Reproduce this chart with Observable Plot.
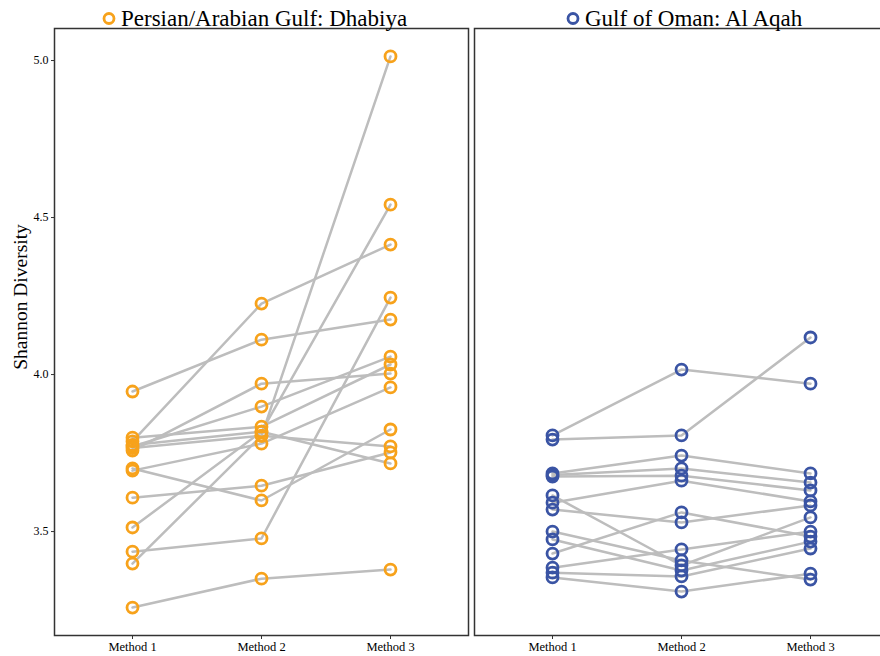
<!DOCTYPE html>
<html>
<head>
<meta charset="utf-8">
<script src="https://cdn.jsdelivr.net/npm/d3@7"></script>
<script src="https://cdn.jsdelivr.net/npm/@observablehq/plot@0.6"></script>
<style>
  html, body { margin: 0; padding: 0; overflow: hidden; background: #fff; }
</style>
</head>
<body>
<div id="chart"></div>
<script>
// Shannon diversity of the same samples measured with three methods, at two sites.
const methods = ["Method 1", "Method 2", "Method 3"];
const sites = ["Persian/Arabian Gulf: Dhabiya", "Gulf of Oman: Al Aqah"];
const siteColors = ["#f7a21b", "#3a54a4"];
const yTicks = [3.5, 4.0, 4.5, 5.0];

// Dhabiya: one value per sample for each method (same sample order in each list)
const dhabiyaM1 = [3.258, 3.436, 3.398, 3.513, 3.946, 3.787, 3.608, 3.701, 3.771, 3.758, 3.799, 3.694, 3.776, 3.766];
const dhabiyaM2 = [3.350, 3.478, 3.805, 3.818, 4.111, 4.226, 3.646, 3.599, 3.898, 3.971, 3.834, 3.780, 3.818, 3.805];
const dhabiyaM3 = [3.379, 4.245, 5.013, 4.541, 4.175, 4.414, 3.752, 3.825, 4.057, 4.003, 4.032, 3.959, 3.717, 3.771];

// Al Aqah
const alAqahM1 = [3.806, 3.793, 3.685, 3.680, 3.675, 3.615, 3.592, 3.570, 3.500, 3.475, 3.430, 3.385, 3.369, 3.354];
const alAqahM2 = [4.016, 3.806, 3.742, 3.701, 3.678, 3.392, 3.662, 3.529, 3.408, 3.376, 3.561, 3.443, 3.357, 3.309];
const alAqahM3 = [3.971, 4.118, 3.685, 3.656, 3.631, 3.545, 3.596, 3.583, 3.347, 3.468, 3.484, 3.500, 3.446, 3.366];

// Long table: one row per sample × method
function rowsFor(site, m1, m2, m3) {
  const out = [];
  [m1, m2, m3].forEach((vals, j) => {
    vals.forEach((v, i) => out.push({site, id: site + "-" + i, method: methods[j], value: v}));
  });
  return out;
}
const rows = [
  ...rowsFor(sites[0], dhabiyaM1, dhabiyaM2, dhabiyaM3),
  ...rowsFor(sites[1], alAqahM1, alAqahM2, alAqahM3)
];

const serif = "Liberation Serif, Times New Roman, serif";

const chart = Plot.plot({
  width: 890,
  height: 656,
  marginTop: 28,
  marginBottom: 21,
  marginLeft: 53,
  marginRight: 1,
  style: {fontFamily: serif, background: "white", color: "#000", maxWidth: "none"},
  fx: {domain: sites, paddingInner: 0.01425, paddingOuter: 0, axis: null, label: null},
  x: {type: "point", domain: methods, padding: 0.596, label: null},
  y: {domain: [3.169, 5.102], label: null},
  color: {domain: sites, range: siteColors},
  marks: [
    Plot.frame({stroke: "#333", strokeWidth: 1.5}),
    Plot.axisY({ticks: yTicks, tickFormat: ".1f", tickSize: 3, tickPadding: 3, fontSize: 12, label: null, stroke: "#333"}),
    Plot.axisX({tickSize: 4, tickPadding: 3, fontSize: 12.5, label: null, stroke: "#333"}),
    Plot.line(rows, {fx: "site", x: "method", y: "value", z: "id", stroke: "#bdbdbd", strokeWidth: 2.5}),
    Plot.dot(rows, {fx: "site", x: "method", y: "value", stroke: "site", fill: "none", r: 5.5, strokeWidth: 2.8}),
    // facet titles with their colour key
    Plot.dot([sites[0]], {fx: d => d, frameAnchor: "top", dx: -152.5, dy: -10, stroke: siteColors[0], fill: "none", r: 5, strokeWidth: 2.8}),
    Plot.text([sites[0]], {fx: d => d, text: d => d, frameAnchor: "top", lineAnchor: "middle", textAnchor: "start", dx: -140.5, dy: -10, fontSize: 23, fill: "#000"}),
    Plot.dot([sites[1]], {fx: d => d, frameAnchor: "top", dx: -108.5, dy: -10, stroke: siteColors[1], fill: "none", r: 5, strokeWidth: 2.8}),
    Plot.text([sites[1]], {fx: d => d, text: d => d, frameAnchor: "top", lineAnchor: "middle", textAnchor: "start", dx: -96.5, dy: -10, fontSize: 23, fill: "#000"}),
    // y-axis title
    Plot.text(["Shannon Diversity"], {fx: () => sites[0], text: d => d, frameAnchor: "left", textAnchor: "middle", rotate: -90, dx: -34, dy: -35, fontSize: 19.5, fill: "#000"})
  ]
});

document.getElementById("chart").appendChild(chart);
</script>
</body>
</html>
